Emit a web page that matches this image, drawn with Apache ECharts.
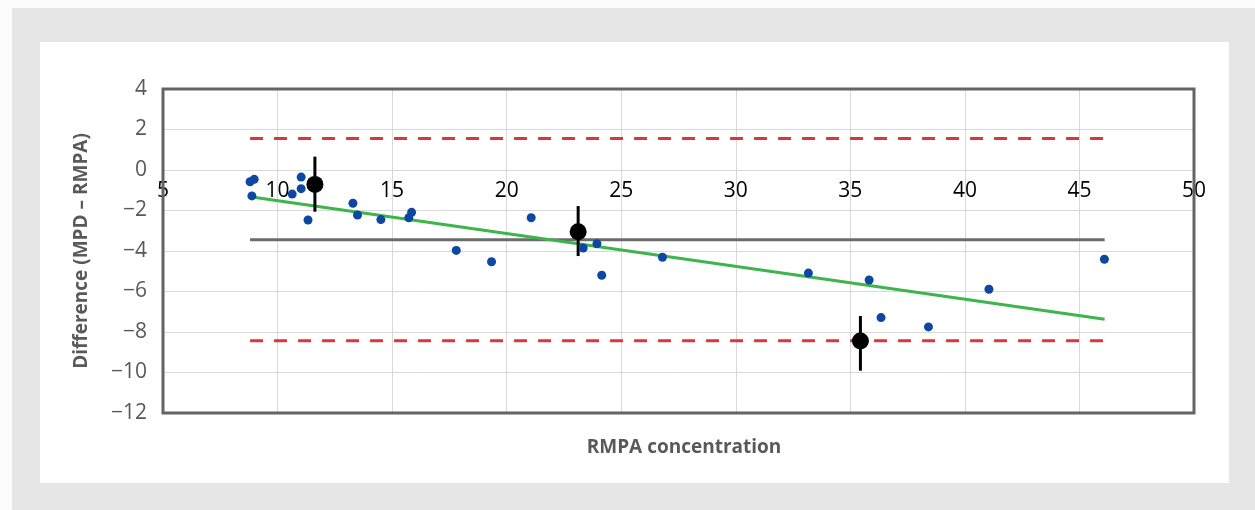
<!DOCTYPE html>
<html>
<head>
<meta charset="utf-8">
<title>Bland–Altman plot: MPD vs RMPA</title>
<script src="https://cdn.jsdelivr.net/npm/echarts@6/dist/echarts.min.js"></script>
<style>
  html, body { margin: 0; padding: 0; background: #fcfcfc; }
  #chart { width: 1255px; height: 510px; }
</style>
</head>
<body>
<div id="chart"></div>
<script>
// Individual samples: RMPA concentration and MPD – RMPA difference
const rmpa = [8.80, 8.98, 8.88, 10.64, 11.03, 11.03, 11.33, 13.29, 13.49, 14.51,
              15.73, 15.85, 17.80, 19.34, 21.07, 23.34, 23.94, 24.15, 26.80, 33.17,
              35.82, 36.34, 38.41, 41.05, 46.09];
const diff = [-0.58, -0.46, -1.28, -1.19, -0.35, -0.92, -2.47, -1.64, -2.22, -2.45,
              -2.36, -2.09, -3.97, -4.53, -2.36, -3.85, -3.64, -5.20, -4.31, -5.09,
              -5.43, -7.29, -7.75, -5.89, -4.41];

// Group means with their error bars
const groupX = [11.63, 23.12, 35.44];
const groupMean = [-0.71, -3.05, -8.44];
const groupLow = [-2.06, -4.25, -9.91];
const groupHigh = [0.66, -1.78, -7.21];

// Bias and limits of agreement, drawn across the sampled concentration range
const spanX = [8.8, 46.1];
const bias = -3.44;
const upperLimit = 1.55;
const lowerLimit = -8.43;

// Linear trend of the differences (end points)
const trendX = [8.8, 46.1];
const trendY = [-1.32, -7.37];

// Axis ticks
const xTicks = [5, 10, 15, 20, 25, 30, 35, 40, 45, 50];
const yTicks = [-12, -10, -8, -6, -4, -2, 0, 2, 4];

const FONT = '"Open Sans", "Noto Sans", sans-serif';
const GREY_TEXT = '#595959';

const chart = echarts.init(document.getElementById('chart'), null, { renderer: 'canvas' });

const hLine = (y) => spanX.map(x => [x, y]);

chart.setOption({
  backgroundColor: 'transparent',
  animation: false,
  textStyle: { fontFamily: FONT },
  graphic: [
    { type: 'rect', z: -10, silent: true, shape: { x: 12, y: 8, width: 1243, height: 502 }, style: { fill: '#e6e6e6' } },
    { type: 'rect', z: -9, silent: true, shape: { x: 40, y: 42, width: 1189, height: 441 }, style: { fill: '#ffffff' } },
    { type: 'text', z: 10, silent: true, x: 684, y: 448,
      style: { text: 'RMPA concentration', font: 'bold 19px ' + FONT, fill: GREY_TEXT, align: 'center', verticalAlign: 'middle' } }
  ],
  grid: {
    z: 1,
    left: 163, right: 61, top: 89, bottom: 97,
    show: true, borderColor: '#646464', borderWidth: 3, backgroundColor: 'transparent'
  },
  xAxis: {
    type: 'value',
    min: xTicks[0], max: xTicks[xTicks.length - 1], interval: 5,
    axisLine: { show: false, onZero: false },
    axisTick: { show: false },
    splitLine: { show: true, lineStyle: { color: '#d9d9d9', width: 1 } },
    axisLabel: { color: '#000000', fontSize: 21, fontFamily: FONT, margin: 11, showMinLabel: true, showMaxLabel: true }
  },
  yAxis: {
    type: 'value',
    min: yTicks[0], max: yTicks[yTicks.length - 1], interval: 2,
    axisLine: { show: false },
    axisTick: { show: false },
    splitLine: { show: true, lineStyle: { color: '#d9d9d9', width: 1 } },
    axisLabel: {
      color: GREY_TEXT, fontSize: 21, fontFamily: FONT, margin: 16,
      formatter: (v) => String(v).replace('-', '\u2212')
    },
    name: 'Difference (MPD \u2013 RMPA)',
    nameLocation: 'middle',
    nameRotate: 90,
    nameGap: 72,
    nameTextStyle: { color: GREY_TEXT, fontSize: 19, fontWeight: 'bold', fontFamily: FONT }
  },
  series: [
    {
      name: 'Upper limit', type: 'line', data: hLine(upperLimit), symbol: 'none', z: 2,
      lineStyle: { color: '#d9383a', width: 3, type: [13, 11] }
    },
    {
      name: 'Lower limit', type: 'line', data: hLine(lowerLimit), symbol: 'none', z: 2,
      lineStyle: { color: '#d9383a', width: 3, type: [13, 11] }
    },
    {
      name: 'Bias', type: 'line', data: hLine(bias), symbol: 'none', z: 2,
      lineStyle: { color: '#6b6b6b', width: 3 }
    },
    {
      name: 'Trend', type: 'line', data: trendX.map((x, i) => [x, trendY[i]]), symbol: 'none', z: 3,
      lineStyle: { color: '#3db54a', width: 3 }
    },
    {
      name: 'Group error', type: 'custom', z: 4,
      data: groupX.map((x, i) => [x, groupLow[i], groupHigh[i]]),
      renderItem: (params, api) => {
        const p0 = api.coord([api.value(0), api.value(1)]);
        const p1 = api.coord([api.value(0), api.value(2)]);
        return {
          type: 'line',
          shape: { x1: p0[0], y1: p0[1], x2: p1[0], y2: p1[1] },
          style: { stroke: '#000000', lineWidth: 3 }
        };
      }
    },
    {
      name: 'Group mean', type: 'scatter', z: 5,
      data: groupX.map((x, i) => [x, groupMean[i]]),
      symbolSize: 17, itemStyle: { color: '#000000', opacity: 1 }
    },
    {
      name: 'Samples', type: 'scatter', z: 6,
      data: rmpa.map((x, i) => [x, diff[i]]),
      symbolSize: 9, itemStyle: { color: '#0d47a1', opacity: 1 }
    }
  ]
});

// The x axis crosses the y axis at zero difference: shift it from the plot
// bottom up to the pixel row of y = 0 as given by the y scale.
const zeroRow = chart.convertToPixel({ yAxisIndex: 0 }, 0);
const bottomRow = chart.convertToPixel({ yAxisIndex: 0 }, yTicks[0]);
chart.setOption({ xAxis: { offset: zeroRow - bottomRow } });
</script>
</body>
</html>
